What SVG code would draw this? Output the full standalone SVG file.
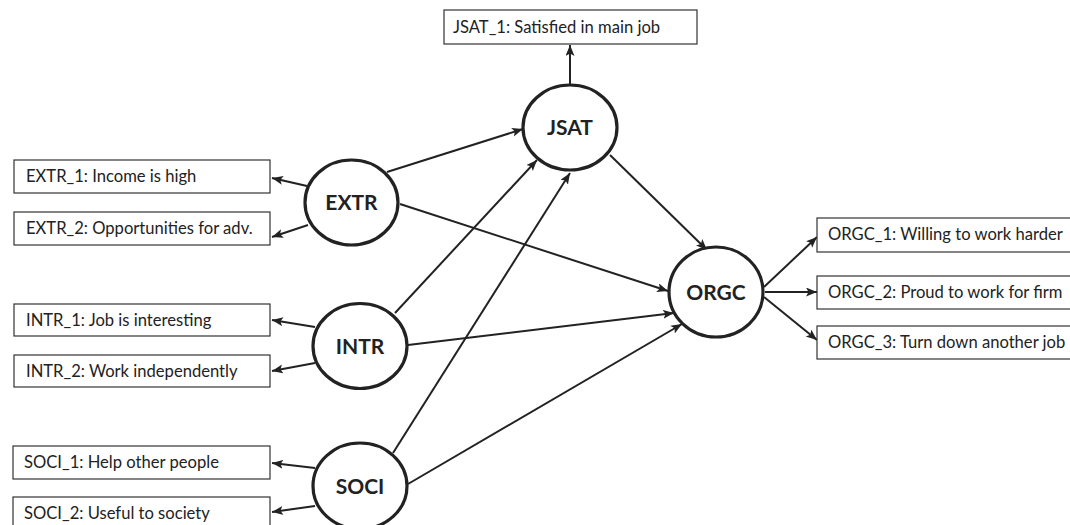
<svg xmlns="http://www.w3.org/2000/svg" width="1070" height="525" viewBox="0 0 1070 525">
<defs>
<style>
.box{fill:#fff;stroke:#333;stroke-width:1.2}
.bt{font-family:Lato,"Liberation Sans",sans-serif;font-size:16.6px;fill:#222}
.lv{fill:#fff;stroke:#222;stroke-width:3.2}
.lt{font-family:Lato,"Liberation Sans",sans-serif;font-size:21px;font-weight:bold;fill:#222;text-anchor:middle}
.c{stroke:#222;stroke-width:2;fill:none;marker-end:url(#ah)}
</style>
<marker id="ah" markerUnits="userSpaceOnUse" markerWidth="12" markerHeight="10" refX="11" refY="4.5" orient="auto">
<path d="M0,0 L11,4.5 L0,9 L2.5,4.5 Z" fill="#222"/>
</marker>
</defs>
<rect width="1070" height="525" fill="#fff"/>
<g id="connectors">
<line class="c" x1="570" y1="85" x2="570" y2="45"/>
<line class="c" x1="307" y1="186" x2="272" y2="178"/>
<line class="c" x1="308" y1="225" x2="272" y2="237"/>
<line class="c" x1="315" y1="327" x2="272" y2="320"/>
<line class="c" x1="315" y1="363" x2="272" y2="371"/>
<line class="c" x1="315" y1="468" x2="272" y2="463"/>
<line class="c" x1="315" y1="506" x2="272" y2="512"/>
<line class="c" x1="387" y1="172" x2="523" y2="129"/>
<line class="c" x1="400" y1="204" x2="668" y2="291"/>
<line class="c" x1="395" y1="313" x2="537" y2="160"/>
<line class="c" x1="408" y1="345" x2="674" y2="313"/>
<line class="c" x1="393" y1="453" x2="570" y2="173"/>
<line class="c" x1="408" y1="484" x2="682" y2="324"/>
<line class="c" x1="610" y1="155" x2="707" y2="250"/>
<line class="c" x1="764" y1="287" x2="817" y2="237"/>
<line class="c" x1="765" y1="292" x2="817" y2="292"/>
<line class="c" x1="764" y1="297" x2="817" y2="340"/>
</g>
<g id="JSAT_1"><rect class="box" x="444" y="10" width="253" height="34"/><text class="bt" x="453" y="33">JSAT_1: Satisfied in main job</text></g>
<g id="EXTR_1"><rect class="box" x="14" y="160" width="256" height="33"/><text class="bt" x="26" y="182">EXTR_1: Income is high</text></g>
<g id="EXTR_2"><rect class="box" x="14" y="212" width="256" height="33"/><text class="bt" x="26" y="234">EXTR_2: Opportunities for adv.</text></g>
<g id="INTR_1"><rect class="box" x="14" y="304" width="256" height="32"/><text class="bt" x="26" y="326">INTR_1: Job is interesting</text></g>
<g id="INTR_2"><rect class="box" x="14" y="355" width="256" height="32"/><text class="bt" x="26" y="377">INTR_2: Work independently</text></g>
<g id="SOCI_1"><rect class="box" x="13" y="446" width="257" height="33"/><text class="bt" x="24" y="468">SOCI_1: Help other people</text></g>
<g id="SOCI_2"><rect class="box" x="13" y="497" width="257" height="33"/><text class="bt" x="24" y="519">SOCI_2: Useful to society</text></g>
<g id="ORGC_1"><rect class="box" x="817" y="218" width="265" height="34"/><text class="bt" x="828" y="240">ORGC_1: Willing to work harder</text></g>
<g id="ORGC_2"><rect class="box" x="817" y="276" width="265" height="33"/><text class="bt" x="828" y="298">ORGC_2: Proud to work for firm</text></g>
<g id="ORGC_3"><rect class="box" x="817" y="326" width="265" height="33"/><text class="bt" x="828" y="348">ORGC_3: Turn down another job</text></g>
<g id="JSAT"><ellipse class="lv" cx="570" cy="127.5" rx="47" ry="42.5"/><text class="lt" x="570" y="135">JSAT</text></g>
<g id="EXTR"><ellipse class="lv" cx="351.5" cy="202.5" rx="46.5" ry="42.5"/><text class="lt" x="351.5" y="210">EXTR</text></g>
<g id="INTR"><ellipse class="lv" cx="360" cy="346" rx="47" ry="42.5"/><text class="lt" x="360" y="354">INTR</text></g>
<g id="SOCI"><ellipse class="lv" cx="360" cy="486" rx="47" ry="43"/><text class="lt" x="360" y="494">SOCI</text></g>
<g id="ORGC"><ellipse class="lv" cx="716" cy="292" rx="47" ry="45"/><text class="lt" x="716" y="300">ORGC</text></g>
</svg>
